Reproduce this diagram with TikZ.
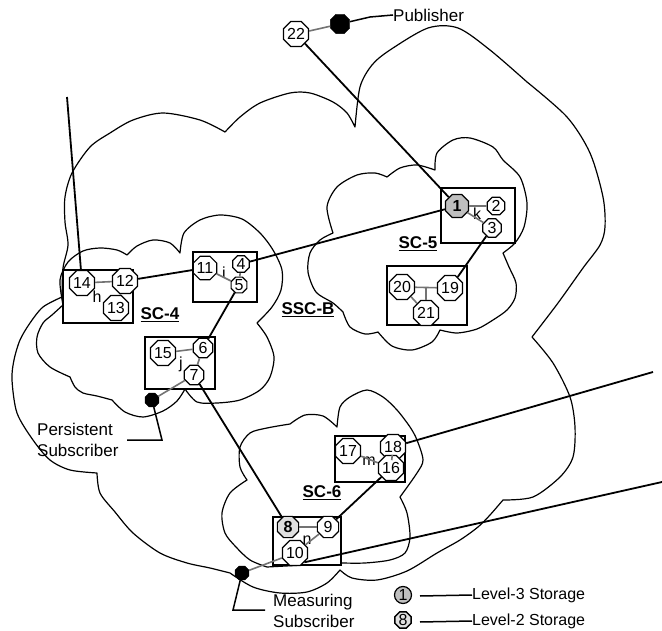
\documentclass[tikz,border=0pt]{standalone}
\usepackage{fontspec}
\setmainfont{Liberation Sans}
\usetikzlibrary{shapes.geometric}
\newcommand{\numsize}{\fontsize{16}{16}\selectfont}
\newcommand{\lblsize}{\fontsize{17}{20.5}\selectfont}
\newcommand{\legsize}{\fontsize{16}{18}\selectfont}
\definecolor{linkgray}{gray}{0.45}
\definecolor{levelthree}{gray}{0.75}
\definecolor{leveltwo}{gray}{0.88}
\tikzstyle{storage} =
[regular polygon, regular polygon sides=8, draw=black, fill=white,
line width=1.2pt, inner sep=0pt, minimum size=24pt, font=\numsize]
\tikzstyle{levelthreenode} = [storage, fill=levelthree, font=\numsize\bfseries]
\tikzstyle{leveltwonode} = [storage, fill=leveltwo, font=\numsize\bfseries]
\tikzstyle{client} =
[regular polygon, regular polygon sides=8, draw=black, fill=black,
inner sep=0pt, minimum size=15pt]
\tikzstyle{cluster} = [draw=black, fill=white, line width=1.6pt]
\tikzstyle{cloudline} = [draw=black, line width=1.2pt, line join=round]
\tikzstyle{line} = [draw=black, line width=1.8pt]
\tikzstyle{link} = [draw=linkgray, line width=1.6pt]
\tikzstyle{tag} = [inner sep=0pt, font=\numsize]
\tikzstyle{caption} = [inner sep=0pt, font=\lblsize\bfseries]
\tikzstyle{desc} = [inner sep=0pt, align=left, font=\lblsize]

\begin{document}
\begin{tikzpicture}[x=1pt, y=-1pt]
  \useasboundingbox (0,0) rectangle (662,631);
  % clouds
  % SSC-B
  \draw [cloudline] plot [smooth] coordinates {(62,297) (43,307) (30,323) (20,340)
    (14,360) (12,380) (17,413) (33,440) (50,460) (70,470) (97,473)}
    -- plot [smooth] coordinates {(97,473) (100,493) (115,512) (133,533) (160,553)
    (187,563) (210,568) (230,573)}
    -- plot [smooth] coordinates {(230,573) (253,587) (280,593) (307,592) (327,583)
    (340,570)}
    -- plot [smooth] coordinates {(340,570) (352,578) (377,580) (407,571) (437,553)
    (460,540) (478,527) (490,515) (503,500)}
    -- plot [smooth] coordinates {(503,500) (533,497) (560,477) (573,457) (575,427)
    (570,397) (553,363) (532,337)}
    -- plot [smooth] coordinates {(532,337) (558,303) (583,268) (600,245) (605,227)
    (603,197) (590,153) (567,117) (527,82)}
    -- plot [smooth] coordinates {(527,82) (490,50) (458,28) (428,28) (390,50)
    (372,65) (360,87) (355,127)}
    -- plot [smooth] coordinates {(355,127) (347,113) (333,102) (310,93) (290,93)
    (260,103) (240,117) (225,132)}
    -- plot [smooth] coordinates {(225,132) (200,120) (163,113) (133,120) (110,133)
    (90,147) (72,173) (65,197) (65,222) (68,245) (63,268) (62,297)} -- cycle;
  % SC-4
  \draw [cloudline] plot [smooth] coordinates {(63,305) (60,280) (68,262) (83,251)
    (100,248) (117,250) (127,255)}
    -- plot [smooth] coordinates {(127,255) (137,246) (153,240) (170,243) (180,253)}
    -- plot [smooth] coordinates {(180,253) (184,233) (200,220) (220,215) (242,219)
    (260,233) (273,250) (282,270) (281,290) (272,307) (257,323)}
    -- plot [smooth] coordinates {(257,323) (267,337) (274,357) (270,377) (260,390)
    (240,400) (217,403) (197,402) (185,389)}
    -- plot [smooth] coordinates {(185,389) (177,401) (163,411) (143,417) (125,412)
    (112,400)}
    -- plot [smooth] coordinates {(112,400) (97,396) (83,393) (75,387) (70,377)}
    -- plot [smooth] coordinates {(70,377) (50,367) (38,353) (37,337) (43,323)
    (52,315) (63,305)} -- cycle;
  % SC-5
  \draw [cloudline] plot [smooth] coordinates {(333,233) (327,207) (337,187)
    (357,175) (375,173) (387,177)}
    -- plot [smooth] coordinates {(387,177) (400,168) (417,165) (435,170)}
    -- plot [smooth] coordinates {(435,170) (437,153) (453,140) (470,138) (493,147)
    (503,160) (520,177) (527,203) (524,227) (515,243) (503,253)}
    -- plot [smooth] coordinates {(503,253) (509,267) (516,283) (515,298) (507,310)
    (493,320) (477,329) (457,333) (440,330)}
    -- plot [smooth] coordinates {(440,330) (432,342) (412,350) (392,346) (378,332)}
    -- plot [smooth] coordinates {(378,332) (365,334) (350,327) (343,312)}
    -- plot [smooth] coordinates {(343,312) (333,303) (316,292) (308,272) (310,253)
    (320,240) (333,233)} -- cycle;
  % SC-6
  \draw [cloudline] plot [smooth] coordinates {(267,567) (250,560) (236,547)
    (225,533) (222,513) (230,493) (247,480)}
    -- plot [smooth] coordinates {(247,480) (240,467) (240,447) (250,433) (267,428)
    (290,424)}
    -- plot [smooth] coordinates {(290,424) (305,415) (323,416) (337,427)}
    -- plot [smooth] coordinates {(337,427) (340,407) (350,397) (367,390) (383,397)
    (397,410) (410,427) (417,440) (423,460) (417,473) (400,497)}
    -- plot [smooth] coordinates {(400,497) (407,513) (410,537) (405,553) (390,560)
    (365,563) (342,563)} -- cycle;
  %
  % clusters
  \draw [cluster] (441,188) rectangle (515,243);
  \draw [cluster] (387,266) rectangle (467,325);
  \draw [cluster] (63,270) rectangle (133,323);
  \draw [cluster] (193,252) rectangle (257,302);
  \draw [cluster] (145,337) rectangle (215,389);
  \draw [cluster] (335,436) rectangle (405,482);
  \draw [cluster] (273,517) rectangle (341,565);
  %
  % storage nodes
  \node [storage] (s22) at (296,34) {22};
  \node [levelthreenode, minimum size=25pt] (s1) at (457,206) {1};
  \node [storage, minimum size=19pt] (s2) at (496,206) {2};
  \node [storage, minimum size=20pt] (s3) at (492,228) {3};
  \node [storage, minimum size=23pt] (s20) at (402,287) {20};
  \node [storage, minimum size=25pt] (s19) at (450,288) {19};
  \node [storage] (s21) at (426,313) {21};
  \node [storage, minimum size=26pt] (s14) at (82,283) {14};
  \node [storage, minimum size=25pt] (s12) at (125,281) {12};
  \node [storage, minimum size=25pt] (s13) at (116,308) {13};
  \node [storage] (s11) at (205,268) {11};
  \node [storage, minimum size=18pt] (s4) at (241,264) {4};
  \node [storage, minimum size=17pt] (s5) at (239,285) {5};
  \node [storage, minimum size=25pt] (s15) at (163,353) {15};
  \node [storage, minimum size=21pt] (s6) at (203,348) {6};
  \node [storage, minimum size=21pt] (s7) at (194,375) {7};
  \node [storage, minimum size=23pt] (s17) at (348,451) {17};
  \node [storage, minimum size=22pt] (s18) at (393,447) {18};
  \node [storage] (s16) at (391,468) {16};
  \node [leveltwonode, minimum size=23pt] (s8) at (288,527) {8};
  \node [storage, minimum size=23pt] (s9) at (328,527) {9};
  \node [storage, minimum size=22pt] (s10) at (295,553) {10};
  % clients
  \node [client, minimum size=21pt] (pub) at (340,24) {};
  \node [client] (pers) at (152,400) {};
  \node [client] (meas) at (242,573) {};
  % cluster tags
  \node [tag] (tk) at (477,214) {k};
  \node [tag] (th) at (97,297) {h};
  \node [tag] (ti) at (224,273) {i};
  \node [tag] (tj) at (181,364) {j};
  \node [tag] (tm) at (369,461) {m};
  \node [tag] (tn) at (307,540) {n};
  \node [caption] (sc5) at (418,244) {\underline{SC-5}};
  \node [caption] (sc4) at (160,315) {\underline{SC-4}};
  \node [caption] (sc6) at (322,493) {\underline{SC-6}};
  \node [caption] (sscb) at (308,310) {\underline{SSC-B}};
  % client texts
  \node [desc, anchor=west] (tpub) at (393,15) {Publisher};
  \node [desc, anchor=west] (tpers) at (37,440) {Persistent\\Subscriber};
  \node [desc, anchor=west] (tmeas) at (273,611) {Measuring\\Subscriber};
  %
  % links inside clusters
  \path [link] (s1) -- (s2);
  \path [link] (s1) -- (s3);
  \path [link] (s20) -- (s19);
  \path [link] (s21) -- (s21 |- s20);
  \path [link] (s20) -- (s21);
  \path [link] (s14) -- (s12);
  \path [link] (s13) -- (s12);
  \path [link] (s11) -- (s5);
  \path [link] (s4) -- (s5);
  \path [link] (s15) -- (s6);
  \path [link] (s7) -- (s6);
  \path [link] (s17) -- (s16);
  \path [link] (s18) -- (s16);
  \path [link] (s8) -- (s9);
  \path [link] (s10) -- (s9);
  \path [link] (s22) -- (pub);
  \path [link] (s7) -- (pers);
  \path [link] (s10) -- (meas);
  % lines between clusters
  \coordinate (up14) at (67,97);
  \coordinate (out18) at (653,372);
  \coordinate (out10) at (662,482);
  \path [line] (s22) -- (s1);
  \path [line] (s12) -- (s11);
  \path [line] (s4) -- (s1);
  \path [line] (s5) -- (s6);
  \path [line] (s3) -- (s19);
  \path [line] (s7) -- (s8);
  \path [line] (s16) -- (s9);
  \path [line] (s14) -- (up14);
  \path [line] (s18) -- (out18);
  \path [line] (s10.south east) -- (out10);
  % client callouts
  \coordinate (pubbend) at (370,17);
  \coordinate (persbend) at (162,440);
  \coordinate (persend) at (127,440);
  \coordinate (measbend) at (233,610);
  \coordinate (measend) at (265,610);
  \draw [black, line width=1.5pt] (pub) -- (pubbend) -- (tpub.west);
  \draw [black, line width=1.5pt] (pers) -- (persbend) -- (persend);
  \draw [black, line width=1.5pt] (meas) -- (measbend) -- (measend);
  %
  % legend
  \node [circle, draw=black, fill=levelthree, line width=1.2pt, inner sep=0pt,
    minimum size=17pt, font=\legsize] (leg3) at (403,595) {1};
  \node [storage, fill=leveltwo, minimum size=17pt, line width=1.5pt,
    font=\legsize] (leg2) at (403,620) {8};
  \node [inner sep=0pt, font=\legsize, anchor=west] (tleg3) at (472,595)
    {Level-3 Storage};
  \node [inner sep=0pt, font=\legsize, anchor=west] (tleg2) at (472,621)
    {Level-2 Storage};
  \coordinate (leg3a) at (420,596);
  \coordinate (leg2a) at (420,622);
  \draw [black, line width=1.5pt] (leg3a) -- (tleg3.west);
  \draw [black, line width=1.5pt] (leg2a) -- (tleg2.west);
\end{tikzpicture}
\end{document}
